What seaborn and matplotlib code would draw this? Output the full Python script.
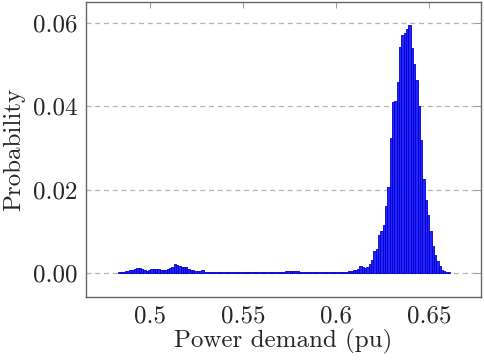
import numpy as np
import pandas as pd
import matplotlib
matplotlib.use("Agg")
import matplotlib.pyplot as plt
import seaborn as sns

# Histograma de la demanda de potencia
bin_start = 0.4826
bin_width = 0.00125
probabilidad = [
    0.0002, 0.0003, 0.0003, 0.0004, 0.0005, 0.0006, 0.0008,
    0.0010, 0.0011, 0.0011, 0.0009,
    0.0006, 0.0005, 0.0006,
    0.0009, 0.0010, 0.0010, 0.0009,
    0.0007, 0.0007, 0.0008, 0.0009,
    0.0012, 0.0014, 0.0022, 0.0019, 0.0016,
    0.0015, 0.0014, 0.0014, 0.0010, 0.0008,
    0.0006, 0.0005, 0.0004, 0.0005, 0.0007,
    0.0003, 0.0002, 0.0002, 0.0001, 0.0002, 0.0001, 0.0001, 0.0002, 0.0001, 0.0001,
    0.0001, 0.0002, 0.0001, 0.0001, 0.0002, 0.0002, 0.0001, 0.0002, 0.0002, 0.0002,
    0.0002, 0.0002, 0.0002, 0.0003, 0.0002, 0.0002, 0.0003, 0.0002, 0.0003, 0.0003,
    0.0003, 0.0002, 0.0003, 0.0003, 0.0003, 0.0004, 0.0004, 0.0005, 0.0005, 0.0004,
    0.0004, 0.0003, 0.0003, 0.0003, 0.0003, 0.0002, 0.0003, 0.0003, 0.0002, 0.0003,
    0.0003, 0.0002, 0.0002, 0.0003, 0.0002, 0.0002, 0.0003, 0.0002,
    0.0002, 0.0002, 0.0003, 0.0003, 0.0004, 0.0005,
    0.0006, 0.0008, 0.0010, 0.0016, 0.0015, 0.0012, 0.0014, 0.0022, 0.0030, 0.0052,
    0.0058, 0.0092, 0.0100, 0.0116, 0.0160, 0.0205, 0.0325, 0.0410, 0.0412, 0.0458,
    0.0542, 0.0572, 0.0577, 0.0586, 0.0594, 0.0540, 0.0502, 0.0462, 0.0401, 0.0320,
    0.0225, 0.0175, 0.0140, 0.0100, 0.0064, 0.0044, 0.0028, 0.0016, 0.0008, 0.0004,
    0.0003, 0.0002,
]
xticks = [0.5, 0.55, 0.6, 0.65]
xtick_labels = ["0.5", "0.55", "0.6", "0.65"]
yticks = [0.0, 0.02, 0.04, 0.06]
ytick_labels = ["0.00", "0.02", "0.04", "0.06"]

edges = bin_start + bin_width * np.arange(len(probabilidad) + 1)
df = pd.DataFrame({"demanda": edges[:-1] + bin_width / 2, "prob": probabilidad})

sns.set_style("white")
plt.rcParams["font.family"] = ["cmr10", "DejaVu Serif"]
plt.rcParams["axes.formatter.use_mathtext"] = True

fig = plt.figure(figsize=(4.84, 3.6), dpi=100)
ax = fig.add_axes([0.178, 0.175, 0.816, 0.819])

sns.histplot(data=df, x="demanda", weights="prob", bins=list(edges), stat="count",
             color="#2323ff", edgecolor="#0000c8", linewidth=0.6, alpha=1,
             ax=ax, zorder=3)

ax.set_xlim(0.4656, 0.678)
ax.set_ylim(-0.0058, 0.065)
ax.set_xticks(xticks)
ax.set_xticklabels(xtick_labels)
ax.set_yticks(yticks)
ax.set_yticklabels(ytick_labels)

ax.yaxis.grid(True, linestyle=(0, (4, 3)), color="#b4b4b4", linewidth=0.9, zorder=0)
ax.set_axisbelow(True)
ax.tick_params(direction="in", top=True, right=True, length=4, width=0.6,
               color="#888888", labelsize=18, pad=6)
for s in ax.spines.values():
    s.set_color("#666666")
    s.set_linewidth(1.0)

ax.set_xlabel("Power demand (pu)", fontsize=18, labelpad=1)
ax.set_ylabel("Probability", fontsize=18, labelpad=6)

fig.savefig("out.png", dpi=100)
